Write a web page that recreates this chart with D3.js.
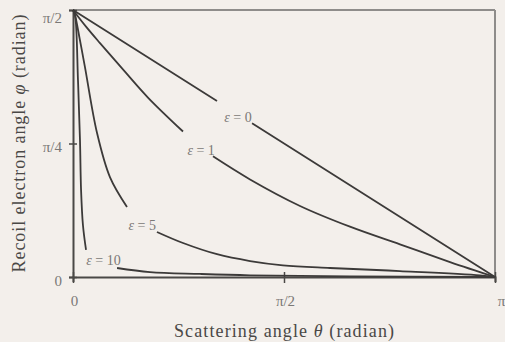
<!DOCTYPE html>
<html>
<head>
<meta charset="utf-8">
<script src="https://cdn.jsdelivr.net/npm/d3@7"></script>
<style>
  html, body { margin: 0; padding: 0; background: #f3efeb; }
  svg { display: block; }
  text { font-family: "Liberation Serif", "Times New Roman", serif; }
</style>
</head>
<body>
<svg id="chart" width="505" height="342"></svg>
<script>
// ---- data (angles in radians) ----
const xTickValues = [0, 1.5708, 3.1416];
const xTickLabels = ["0", "\u03C0/2", "\u03C0"];
const yTickValues = [0, 0.7854, 1.5708];
const yTickLabels = ["0", "\u03C0/4", "\u03C0/2"];

// each series: [theta, phi]; null marks the break where the label sits
const seriesEps0 = [[0, 1.571], [1.072, 1.035], null, [1.333, 0.905], [3.142, 0]];
const seriesEps1 = [[0, 1.571], [0.1, 1.47], [0.201, 1.376], [0.380, 1.214], [0.558, 1.056], [0.819, 0.856], null,
                    [1.042, 0.710], [1.318, 0.574], [1.690, 0.418], [2.062, 0.296], [2.434, 0.192],
                    [2.807, 0.088], [3.142, 0]];
const seriesEps5 = [[0, 1.571], [0.015, 1.540], [0.050, 1.400], [0.089, 1.235], [0.179, 0.847], [0.275, 0.588],
                    [0.402, 0.412], null, [0.625, 0.265], [0.819, 0.200], [1.072, 0.134],
                    [1.318, 0.094], [1.563, 0.069], [1.913, 0.053], [2.434, 0.035], [3.030, 0.010], [3.142, 0]];
const seriesEps10 = [[0, 1.571], [0.015, 1.541], [0.037, 1.159], [0.052, 0.806], [0.060, 0.512],
                     [0.074, 0.306], [0.097, 0.159], null, [0.328, 0.053], [0.573, 0.029],
                     [0.945, 0.018], [1.318, 0.010], [2.062, 0.004], [3.142, 0]];
const seriesNames = ["0", "1", "5", "10"];
// label anchor positions in data units [theta, phi]
const labelPos = [[1.228, 0.940], [0.954, 0.749], [0.515, 0.306], [0.227, 0.100]];

const allSeries = [seriesEps0, seriesEps1, seriesEps5, seriesEps10];

// ---- layout ----
const svg = d3.select("#chart");
const mLeft = 73, mRight = 495, mTop = 10, mBottom = 277;

const x = d3.scaleLinear().domain([0, Math.PI]).range([mLeft, mRight]);
const y = d3.scaleLinear().domain([0, Math.PI / 2]).range([mBottom, mTop]);

// frame (top / right lighter)
svg.append("line").attr("x1", mLeft).attr("x2", mRight).attr("y1", mTop).attr("y2", mTop)
  .attr("stroke", "#8e8c8a").attr("stroke-width", 2);
svg.append("line").attr("x1", mRight).attr("x2", mRight).attr("y1", mTop).attr("y2", mBottom)
  .attr("stroke", "#8e8c8a").attr("stroke-width", 2);

// axes
const xAxis = d3.axisBottom(x).tickValues(xTickValues)
  .tickFormat((d, i) => xTickLabels[i]).tickSize(5).tickPadding(13);
const gx = svg.append("g").attr("transform", `translate(0,${mBottom})`).call(xAxis);
gx.select(".domain").attr("stroke", "#4a4846").attr("stroke-width", 2);
gx.selectAll(".tick line").attr("y1", -5).attr("y2", 6).attr("stroke", "#4a4846").attr("stroke-width", 1.5);
gx.selectAll(".tick text").attr("font-size", 15).attr("fill", "#7a7876")
  .attr("font-family", "Liberation Serif, serif")
  .attr("dx", (d, i) => i === xTickValues.length - 1 ? 6 : 1);

const yAxis = d3.axisLeft(y).tickValues(yTickValues)
  .tickFormat((d, i) => yTickLabels[i]).tickSize(4).tickPadding(7);
const gy = svg.append("g").attr("transform", `translate(${mLeft},0)`).call(yAxis);
gy.select(".domain").attr("stroke", "#4a4846").attr("stroke-width", 2);
gy.selectAll(".tick line").attr("x1", 4).attr("x2", -4).attr("stroke", "#4a4846").attr("stroke-width", 1.5);
gy.selectAll(".tick text").attr("font-size", 15).attr("fill", "#7a7876")
  .attr("font-family", "Liberation Serif, serif")
  .attr("dy", (d, i) => i === yTickValues.length - 1 ? "0.85em" : "0.55em");

// curves
const line = d3.line()
  .defined(d => d !== null)
  .x(d => x(d[0])).y(d => y(d[1]))
  .curve(d3.curveCatmullRom.alpha(0.5));

svg.append("g").selectAll("path").data(allSeries).join("path")
  .attr("d", line)
  .attr("fill", "none")
  .attr("stroke", "#3c3a39")
  .attr("stroke-width", 1.8)
  .attr("stroke-linejoin", "round");

// curve labels
const lab = svg.append("g").selectAll("text").data(seriesNames).join("text")
  .attr("x", (d, i) => x(labelPos[i][0]))
  .attr("y", (d, i) => y(labelPos[i][1]))
  .attr("text-anchor", "middle")
  .attr("dy", "0.35em")
  .attr("font-size", 14)
  .attr("fill", "#7a7876");
lab.append("tspan").attr("font-style", "italic").text("\u03B5");
lab.append("tspan").text(d => " = " + d);

// axis titles
const xt = svg.append("text")
  .attr("x", (mLeft + mRight) / 2).attr("y", 337)
  .attr("text-anchor", "middle")
  .attr("font-size", 18).attr("fill", "#4a4846")
  .attr("textLength", 220).attr("lengthAdjust", "spacing");
xt.append("tspan").text("Scattering angle ");
xt.append("tspan").attr("font-style", "italic").text("\u03B8");
xt.append("tspan").text(" (radian)");

const yt = svg.append("text")
  .attr("transform", `translate(25,${(mTop + mBottom) / 2}) rotate(-90)`)
  .attr("text-anchor", "middle")
  .attr("font-size", 18).attr("fill", "#4a4846")
  .attr("textLength", 258).attr("lengthAdjust", "spacing");
yt.append("tspan").text("Recoil electron angle ");
yt.append("tspan").attr("font-style", "italic").text("\u03C6");
yt.append("tspan").text(" (radian)");
</script>
</body>
</html>
